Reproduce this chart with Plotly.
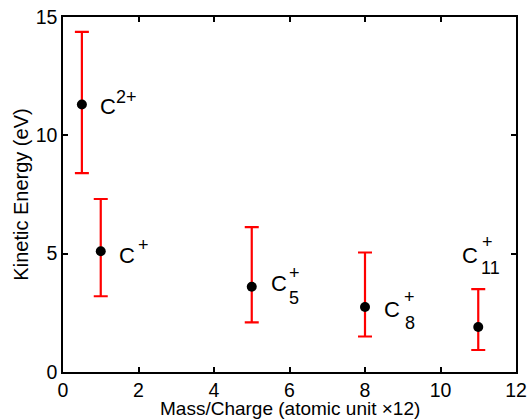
import plotly.graph_objects as go

# data
mass_charge = [0.5, 1, 5, 8, 11]
energy = [11.3, 5.1, 3.6, 2.75, 1.9]
err_high = [14.37, 7.31, 6.12, 5.05, 3.5]
err_low = [8.4, 3.2, 2.1, 1.5, 0.93]

# labels: (base, sup, sub) and anchor positions in data units
label_base = ["C", "C", "C", "C", "C"]
label_sup = ["2+", "+", "+", "+", "+"]
label_sub = ["", "", "5", "8", "11"]
base_x = [1.19, 1.70, 5.72, 8.72, 10.78]
base_y = [11.20, 4.94, 3.72, 2.62, 4.94]
sup_x = [1.69, 2.13, 6.13, 9.18, 11.24]
sup_y = [11.62, 5.37, 4.18, 3.17, 5.49]
sub_x = [None, None, 6.13, 9.18, 11.33]
sub_y = [None, None, 3.13, 2.07, 4.39]

x_ticks = [0, 2, 4, 6, 8, 10, 12]
y_ticks = [0, 5, 10, 15]

plus = [h - e for h, e in zip(err_high, energy)]
minus = [e - l for e, l in zip(energy, err_low)]

FONT = "Liberation Sans, Arial, sans-serif"

fig = go.Figure()
fig.add_trace(go.Scatter(
    x=mass_charge, y=energy, mode="markers",
    marker=dict(color="black", size=10),
    error_y=dict(type="data", symmetric=False, array=plus, arrayminus=minus,
                 color="#ff0000", thickness=2.2, width=7),
    showlegend=False, hoverinfo="skip",
))

ann = []
for i in range(len(mass_charge)):
    ann.append(dict(x=base_x[i], y=base_y[i], xref="x", yref="y", text=label_base[i],
                    showarrow=False, font=dict(size=22, color="black", family=FONT),
                    xanchor="center", yanchor="middle"))
    ann.append(dict(x=sup_x[i], y=sup_y[i], xref="x", yref="y", text=label_sup[i],
                    showarrow=False, font=dict(size=18, color="black", family=FONT),
                    xanchor="center", yanchor="middle"))
    if label_sub[i]:
        ann.append(dict(x=sub_x[i], y=sub_y[i], xref="x", yref="y", text=label_sub[i],
                        showarrow=False, font=dict(size=18, color="black", family=FONT),
                        xanchor="center", yanchor="middle"))

# x-axis title as annotation below the tick labels
ann.append(dict(x=0.5, y=-0.1042, xref="paper", yref="paper",
                text="Mass/Charge (atomic unit \u00d712)", showarrow=False,
                font=dict(size=19, color="black", family=FONT), borderpad=0,
                xanchor="center", yanchor="middle"))

axis_common = dict(showline=True, linecolor="black", linewidth=1.5, mirror="ticks",
                   ticks="inside", ticklen=5, tickwidth=1.5, tickcolor="black",
                   showgrid=False, zeroline=False, automargin=False,
                   ticklabeloverflow="allow",
                   tickfont=dict(size=19.5, color="black", family=FONT))

fig.update_layout(
    width=527, height=419,
    margin=dict(l=63, r=11, t=17, b=47),
    paper_bgcolor="white", plot_bgcolor="white",
    annotations=ann,
    xaxis=dict(range=[0, 12], tickvals=x_ticks, ticktext=[str(v) for v in x_ticks],
               **axis_common),
    yaxis=dict(range=[0, 15], tickvals=y_ticks, ticktext=[str(v) for v in y_ticks],
               title=dict(text="Kinetic Energy (eV)", standoff=2,
                          font=dict(size=20, color="black", family=FONT)),
               **axis_common),
)

fig.write_html("out.html", config={"displayModeBar": False},
               post_script="document.body.style.margin='0px';document.body.style.overflow='hidden';")
